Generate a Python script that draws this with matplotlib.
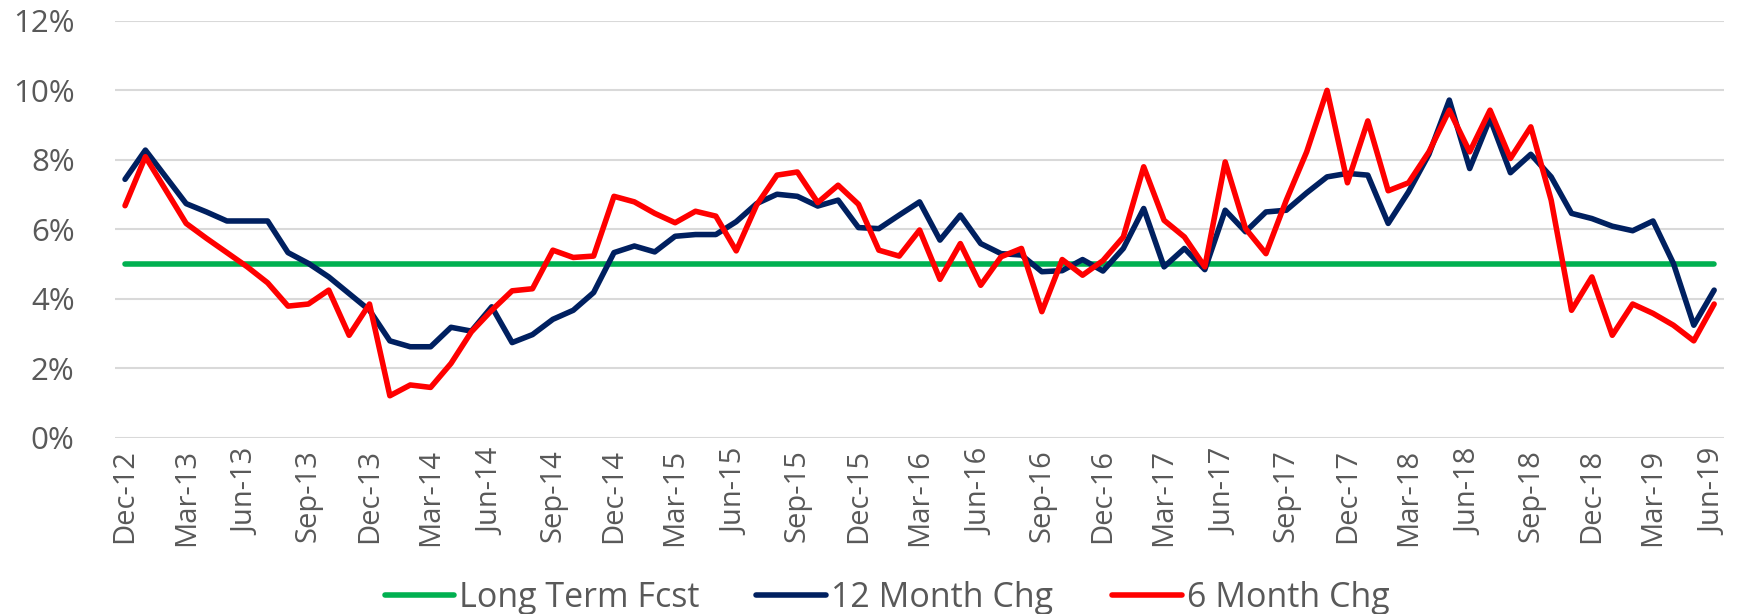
import matplotlib
matplotlib.use("Agg")
import matplotlib.pyplot as plt
import pandas as pd
from matplotlib.ticker import FuncFormatter

months = pd.date_range("2012-12-01", "2019-06-01", freq="MS")
labels = [d.strftime("%b-%y") for d in months]

long_term = [5.0] * len(months)

chg_12m = [7.44, 8.28, 7.51, 6.74, 6.50, 6.24, 6.24, 6.24, 5.33, 5.02,
           4.63, 4.15, 3.67, 2.79, 2.62, 2.62, 3.18, 3.07, 3.77, 2.74,
           2.97, 3.41, 3.67, 4.18, 5.33, 5.52, 5.35, 5.80, 5.85, 5.85,
           6.22, 6.74, 7.01, 6.95, 6.67, 6.84, 6.05, 6.02, 6.41, 6.79,
           5.69, 6.41, 5.59, 5.30, 5.26, 4.78, 4.81, 5.13, 4.80, 5.45,
           6.60, 4.92, 5.45, 4.84, 6.55, 5.93, 6.50, 6.55, 7.05, 7.51,
           7.61, 7.56, 6.17, 7.08, 8.16, 9.72, 7.75, 9.19, 7.63, 8.16,
           7.51, 6.46, 6.31, 6.09, 5.96, 6.24, 5.02, 3.24, 4.25]

chg_6m = [6.68, 8.09, 7.13, 6.17, 5.74, 5.33, 4.92, 4.46, 3.79, 3.85,
          4.25, 2.95, 3.85, 1.21, 1.52, 1.45, 2.14, 3.05, 3.67, 4.23,
          4.29, 5.40, 5.19, 5.23, 6.95, 6.79, 6.46, 6.19, 6.52, 6.38,
          5.38, 6.70, 7.56, 7.65, 6.77, 7.27, 6.72, 5.40, 5.23, 5.98,
          4.56, 5.59, 4.39, 5.21, 5.45, 3.63, 5.13, 4.68, 5.10, 5.78,
          7.80, 6.26, 5.78, 4.92, 7.94, 6.02, 5.30, 6.84, 8.23, 10.0,
          7.34, 9.12, 7.11, 7.34, 8.23, 9.43, 8.23, 9.43, 8.04, 8.95,
          6.84, 3.67, 4.63, 2.95, 3.85, 3.58, 3.24, 2.79, 3.85]

series_names = ["Long Term Fcst", "12 Month Chg", "6 Month Chg"]
colors = ["#00B050", "#002060", "#FF0000"]

plt.rcParams["font.family"] = ["Open Sans", "DejaVu Sans"]

fig = plt.figure(figsize=(17.4, 6.14), dpi=100)
ax = fig.add_axes([0.066, 0.287, 0.925, 0.679])

x = list(range(len(months)))
lines = []
for vals, name, c in zip([long_term, chg_12m, chg_6m], series_names, colors):
    ln, = ax.plot(x, vals, color=c, lw=4.0, label=name, solid_joinstyle="round",
                  solid_capstyle="round")
    lines.append(ln)

ax.set_xlim(-0.5, len(months) - 0.5)
ax.set_ylim(0, 12)
ax.set_yticks([0, 2, 4, 6, 8, 10, 12])
ax.yaxis.set_major_formatter(FuncFormatter(lambda v, p: f"{v:.0f}%"))
ax.set_xticks(x[::3])
ax.set_xticklabels(labels[::3], rotation=90)
ax.grid(axis="y", color="#D9D9D9", lw=1.5)
ax.set_axisbelow(True)
for s in ax.spines.values():
    s.set_visible(False)
ax.tick_params(axis="both", length=0, colors="#595959")
ax.tick_params(axis="y", labelsize=22.5, pad=29)
ax.tick_params(axis="x", labelsize=21, pad=8)

legend_x = [0.221, 0.4345, 0.639]
for ln, lx in zip(lines, legend_x):
    leg = fig.legend([ln], [ln.get_label()], loc="center left",
                     bbox_to_anchor=(lx, 0.026), frameon=False, fontsize=24.5,
                     handlelength=2.05, handletextpad=0.15, borderpad=0,
                     borderaxespad=0)
    for t in leg.get_texts():
        t.set_color("#595959")

fig.savefig("out.png", dpi=100)
